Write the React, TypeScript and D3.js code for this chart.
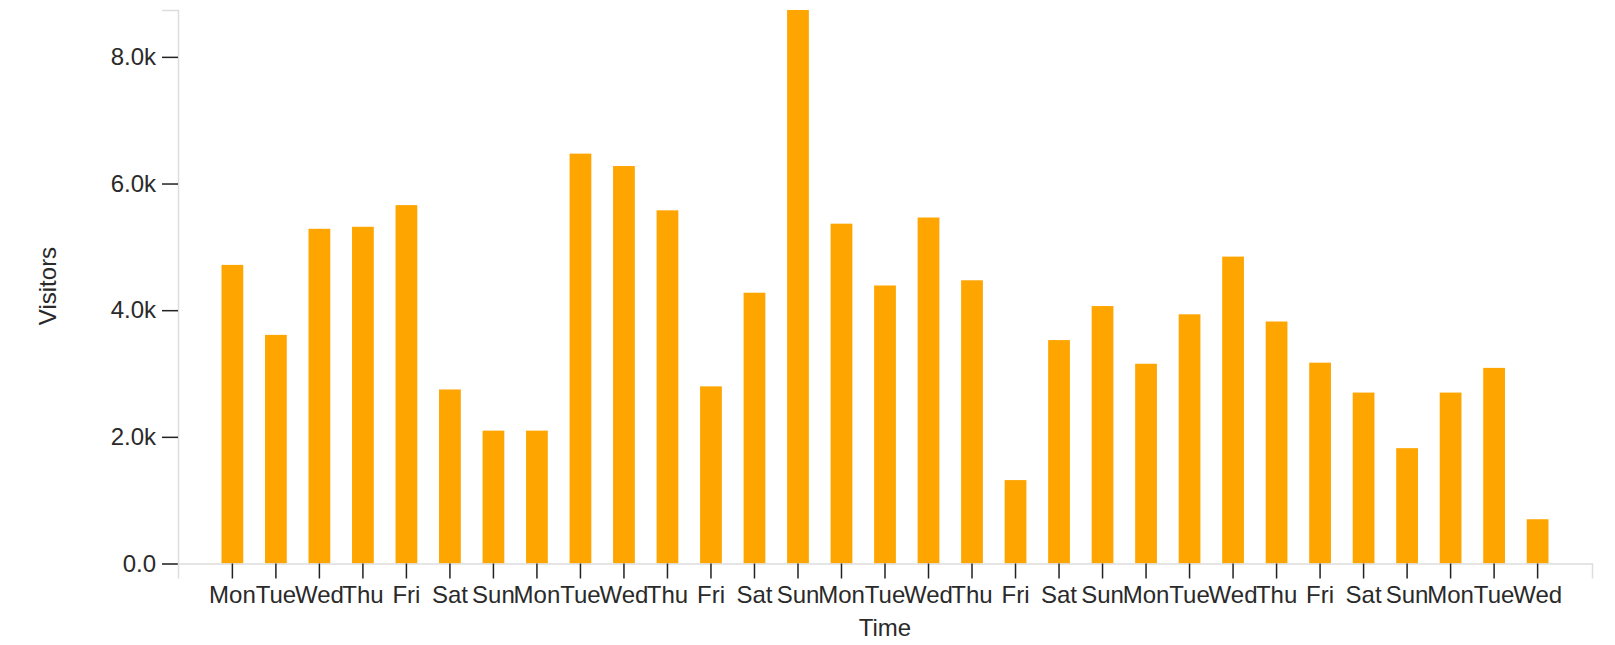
import React, { useEffect, useRef } from "react";
import * as d3 from "d3";

const days: string[] = [
  "Mon","Tue","Wed","Thu","Fri","Sat","Sun",
  "Mon","Tue","Wed","Thu","Fri","Sat","Sun",
  "Mon","Tue","Wed","Thu","Fri","Sat","Sun",
  "Mon","Tue","Wed","Thu","Fri","Sat","Sun",
  "Mon","Tue","Wed",
];
const visitors: number[] = [
  4715, 3610, 5285, 5317, 5659, 2748, 2098,
  2098, 6472, 6276, 5577, 2797, 4276, 8740,
  5366, 4390, 5463, 4472, 1317, 3528, 4065,
  3154, 3935, 4846, 3821, 3171, 2699, 1821,
  2699, 3089, 699,
];
const yTicks: number[] = [0, 2000, 4000, 6000, 8000];
const xTitle = "Time";
const yTitle = "Visitors";

const W = 1615;
const H = 645;
const FONT = "'Liberation Sans', Arial, Helvetica, sans-serif";
const FS = "24px";

export default function App() {
  const ref = useRef<SVGSVGElement | null>(null);

  useEffect(() => {
    document.body.style.margin = "0";
    const svg = d3.select(ref.current);
    svg.selectAll("*").remove();

    const left = 178, right = 1592, top = 10, bottom = 563.5;
    const ids = days.map((_, i) => String(i));
    const x = d3.scaleBand<string>().domain(ids).range([left, right]).paddingInner(0.5).paddingOuter(1);
    const y = d3.scaleLinear().domain([0, d3.max(visitors) as number]).range([bottom, top]);

    // bars
    svg.append("g")
      .selectAll("rect")
      .data(visitors)
      .join("rect")
      .attr("x", (_, i) => x(String(i)) as number)
      .attr("width", x.bandwidth())
      .attr("y", (d) => y(d))
      .attr("height", (d) => bottom - y(d))
      .attr("fill", "#FFA500");

    // y axis
    const yAxis = svg.append("g")
      .attr("transform", `translate(${left},0)`)
      .call(d3.axisLeft(y).tickValues(yTicks).tickFormat(d3.format(".2s") as any).tickSize(16).tickPadding(6));
    yAxis.select(".domain").attr("stroke", "#ddd").attr("stroke-width", 1.5);
    yAxis.selectAll(".tick line").attr("stroke", "#222").attr("stroke-width", 1.5);
    yAxis.selectAll(".tick text")
      .attr("fill", "#2a2a2a").style("font-family", FONT).style("font-size", FS);

    // x axis
    const xAxis = svg.append("g")
      .attr("transform", `translate(0,${bottom})`)
      .call(d3.axisBottom(x).tickFormat((d) => days[+d]).tickSize(15).tickPadding(7));
    xAxis.select(".domain").attr("stroke", "#ddd").attr("stroke-width", 1.5);
    xAxis.selectAll(".tick line").attr("stroke", "#222").attr("stroke-width", 1.5);
    xAxis.selectAll(".tick text")
      .attr("fill", "#2a2a2a").style("font-family", FONT).style("font-size", FS);

    // titles
    svg.append("text")
      .attr("x", (left + right) / 2)
      .attr("y", 636)
      .attr("text-anchor", "middle")
      .attr("fill", "#2a2a2a")
      .style("font-family", FONT)
      .style("font-size", FS)
      .text(xTitle);

    svg.append("text")
      .attr("transform", `translate(56,286) rotate(-90)`)
      .attr("text-anchor", "middle")
      .attr("fill", "#2a2a2a")
      .style("font-family", FONT)
      .style("font-size", FS)
      .text(yTitle);
  }, []);

  return (
    <svg
      ref={ref}
      width={W}
      height={H}
      style={{ position: "absolute", left: 0, top: 0, background: "#fff" }}
    />
  );
}
